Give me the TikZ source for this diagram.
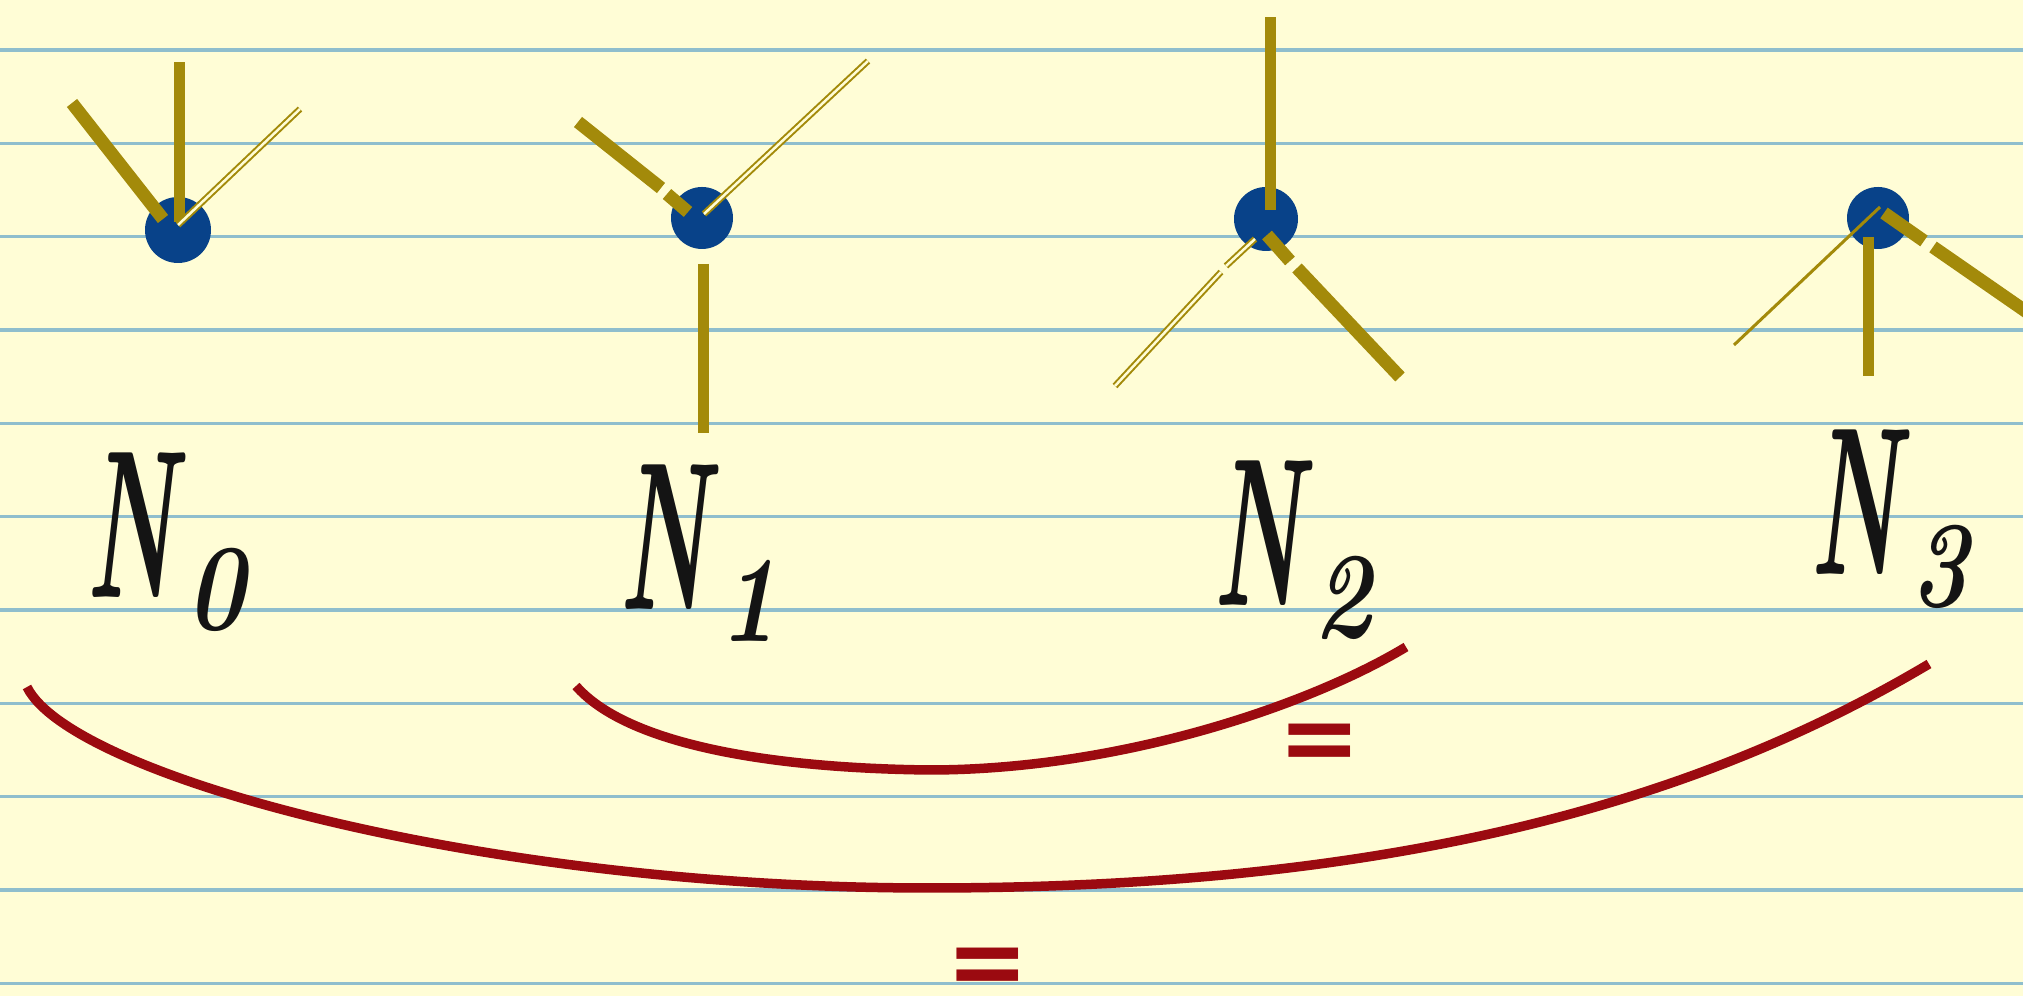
\documentclass[tikz,border=0pt]{standalone}
\usepackage{fontspec}
\newfontfamily\eqfont{DejaVu Sans}
\definecolor{paper}{RGB}{255,253,214}
\definecolor{rule}{RGB}{143,190,205}
\definecolor{brass}{RGB}{163,138,10}
\definecolor{ink}{RGB}{8,66,137}
\definecolor{quill}{RGB}{155,10,16}
\definecolor{pen}{RGB}{20,20,20}
\newcommand\nlab[1]{\scalebox{0.47}[1]{N}\kern3pt\raisebox{-9pt}{\scalebox{0.8}[1]{\fontsize{35}{35}\selectfont #1}}}

\begin{document}
\begin{tikzpicture}[x=0.1mm, y=-0.1mm,
    dial/.style={circle, fill=ink, inner sep=0, minimum size=6.4mm},
    hourhand/.style={draw=brass, line width=1.3mm},
    minhand/.style={draw=brass, line width=1.1mm},
    sechand/.style={draw=brass, line width=0.2mm, double=paper, double distance=0.25mm},
    lab/.style={text=pen, inner sep=0, anchor=base west, font=\fontsize{60}{60}\selectfont\bfseries\itshape},
    eq/.style={text=quill, inner sep=0, font=\eqfont\bfseries\fontsize{28}{28}\selectfont},
    bracket/.style={draw=quill, line width=0.95mm}]
  \clip (0,0) rectangle (2023,996);
  \fill[paper] (0,0) rectangle (2023,996);
  \foreach \k in {0,...,10}
    \draw[rule, line width=0.35mm] (0,{50+93.333*\k}) -- (2023,{50+93.333*\k});

  % clocks
  \node[dial, minimum size=6.6mm] (d0) at (178,230) {};
  \draw[hourhand] (163,219) -- (72,103);
  \draw[minhand] (179,222) -- (179,62);
  \draw[sechand] (178,225) -- (300,109);

  \node[dial, minimum size=6.2mm] (d1) at (702,218) {};
  \draw[hourhand] (688,212) -- (667,194) (661,188) -- (578,122);
  \draw[sechand] (704,214) -- (868,61);
  \draw[minhand] (703,264) -- (703,433);

  \node[dial] (d2) at (1266,219) {};
  \draw[minhand] (1270,210) -- (1270,17);
  \draw[hourhand] (1267,235) -- (1290,261) (1297,268) -- (1400,377);
  \draw[sechand] (1255,239) -- (1226,266) (1221,272) -- (1115,386);

  \node[dial, minimum size=6.2mm] (d3) at (1878,218) {};
  \draw[hourhand] (1884,213) -- (1924,241) (1933,247) -- (2060,335);
  \draw[minhand] (1868,237) -- (1868,376);
  \draw[brass, line width=0.3mm] (1880,207) -- (1734,345);

  % labels
  \node[lab] (n0) at (86,598) {\nlab{0}};
  \node[lab] (n1) at (619,610) {\nlab{1}};
  \node[lab] (n2) at (1213,606) {\nlab{2}};
  \node[lab] (n3) at (1810,575) {\nlab{3}};

  % brackets
  \coordinate (s1) at (576,686); \coordinate (m1) at (929,770); \coordinate (t1) at (1406,647);
  \coordinate (s0) at (27,687); \coordinate (m0) at (929,888); \coordinate (t0) at (1929,664);
  \draw[bracket] (s1) .. controls (625,742) and (760,768) .. (m1)
    .. controls (1120,770) and (1310,705) .. (t1);
  \draw[bracket] (s0) .. controls (70,775) and (480,888) .. (m0)
    .. controls (1400,888) and (1700,800) .. (t0);
  \node[eq] (q1) at (1320,748) {=};
  \node[eq] (q0) at (988,972) {=};
\end{tikzpicture}
\end{document}
